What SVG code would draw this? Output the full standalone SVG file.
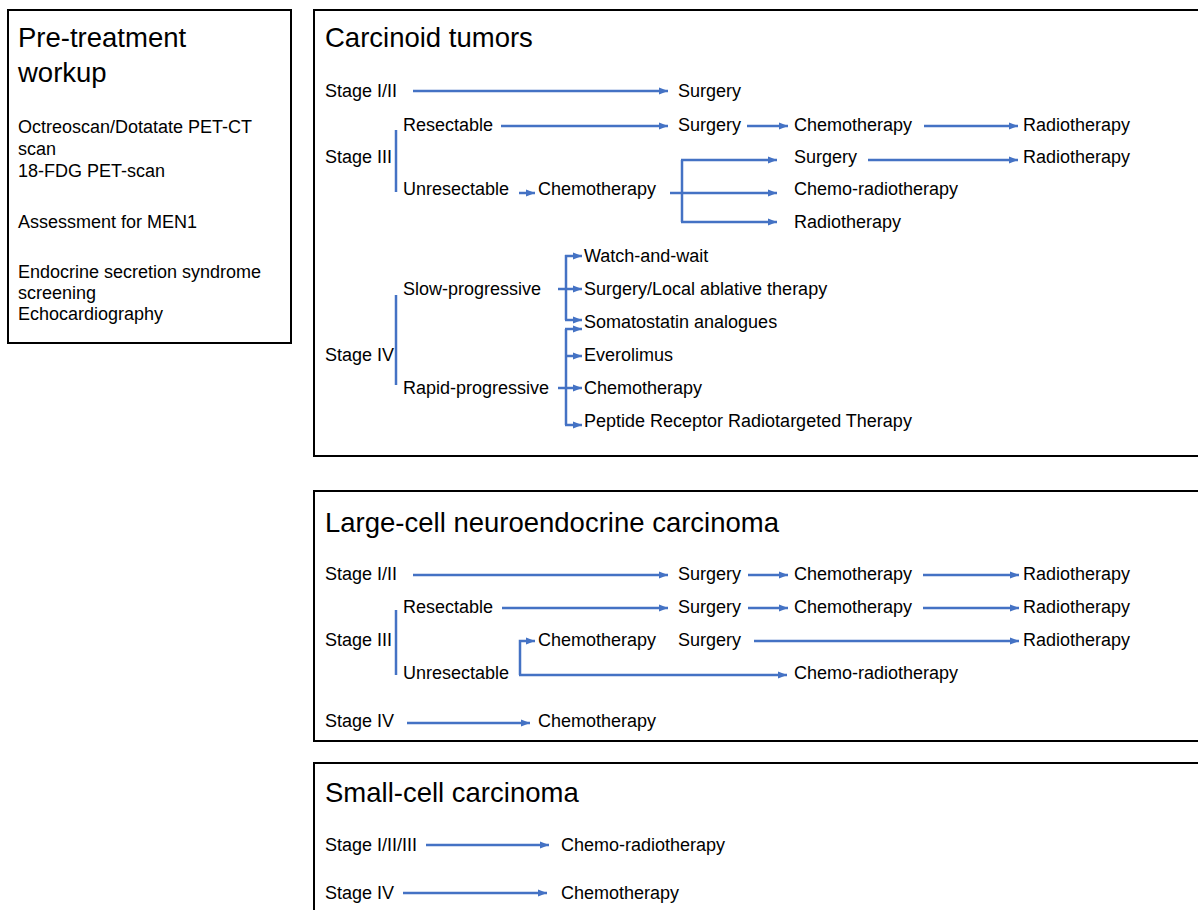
<svg xmlns="http://www.w3.org/2000/svg" width="1198" height="910" viewBox="0 0 1198 910">
<style>
.t{font-family:"Liberation Sans",Arial,sans-serif;font-size:18px;fill:#000}
.h{font-family:"Liberation Sans",Arial,sans-serif;font-size:27.5px;fill:#000}
.frame{fill:#fff;stroke:#000;stroke-width:2}
.c{fill:none;stroke:#4472C4;stroke-width:2.5}
.a{fill:none;stroke:#4472C4;stroke-width:2.5;marker-end:url(#ah)}
</style>
<defs>
<marker id="ah" markerUnits="userSpaceOnUse" markerWidth="10" markerHeight="8" refX="9" refY="4" orient="auto">
<path d="M0,0.5 L9,4 L0,7.5 z" fill="#4472C4"/>
</marker>
</defs>
<rect width="1198" height="910" fill="#fff"/>

<g id="workup">
<rect class="frame" x="8" y="10" width="283" height="333"/>
<text class="h" x="18" y="47">Pre-treatment</text>
<text class="h" x="18" y="82">workup</text>
<text class="t" x="18" y="133">Octreoscan/Dotatate PET-CT</text>
<text class="t" x="18" y="155">scan</text>
<text class="t" x="18" y="177">18-FDG PET-scan</text>
<text class="t" x="18" y="228">Assessment for MEN1</text>
<text class="t" x="18" y="278">Endocrine secretion syndrome</text>
<text class="t" x="18" y="299">screening</text>
<text class="t" x="18" y="320">Echocardiography</text>
</g>

<g id="carcinoid">
<rect class="frame" x="314" y="10" width="890" height="446"/>
<text class="h" x="325" y="47">Carcinoid tumors</text>
<text class="t" x="325" y="97">Stage I/II</text>
<text class="t" x="678" y="97">Surgery</text>
<text class="t" x="403" y="131">Resectable</text>
<text class="t" x="678" y="131">Surgery</text>
<text class="t" x="794" y="131">Chemotherapy</text>
<text class="t" x="1023" y="131">Radiotherapy</text>
<text class="t" x="325" y="163">Stage III</text>
<text class="t" x="794" y="163">Surgery</text>
<text class="t" x="1023" y="163">Radiotherapy</text>
<text class="t" x="403" y="195">Unresectable</text>
<text class="t" x="538" y="195">Chemotherapy</text>
<text class="t" x="794" y="195">Chemo-radiotherapy</text>
<text class="t" x="794" y="228">Radiotherapy</text>
<text class="t" x="584" y="262">Watch-and-wait</text>
<text class="t" x="403" y="295">Slow-progressive</text>
<text class="t" x="584" y="295">Surgery/Local ablative therapy</text>
<text class="t" x="584" y="328">Somatostatin analogues</text>
<text class="t" x="325" y="361">Stage IV</text>
<text class="t" x="584" y="361">Everolimus</text>
<text class="t" x="403" y="394">Rapid-progressive</text>
<text class="t" x="584" y="394">Chemotherapy</text>
<text class="t" x="584" y="427">Peptide Receptor Radiotargeted Therapy</text>
</g>

<g id="lcnec">
<rect class="frame" x="314" y="491" width="890" height="250"/>
<text class="h" x="325" y="532">Large-cell neuroendocrine carcinoma</text>
<text class="t" x="325" y="580">Stage I/II</text>
<text class="t" x="678" y="580">Surgery</text>
<text class="t" x="794" y="580">Chemotherapy</text>
<text class="t" x="1023" y="580">Radiotherapy</text>
<text class="t" x="403" y="613">Resectable</text>
<text class="t" x="678" y="613">Surgery</text>
<text class="t" x="794" y="613">Chemotherapy</text>
<text class="t" x="1023" y="613">Radiotherapy</text>
<text class="t" x="325" y="646">Stage III</text>
<text class="t" x="538" y="646">Chemotherapy</text>
<text class="t" x="678" y="646">Surgery</text>
<text class="t" x="1023" y="646">Radiotherapy</text>
<text class="t" x="403" y="679">Unresectable</text>
<text class="t" x="794" y="679">Chemo-radiotherapy</text>
<text class="t" x="325" y="727">Stage IV</text>
<text class="t" x="538" y="727">Chemotherapy</text>
</g>

<g id="sclc">
<rect class="frame" x="314" y="763" width="890" height="160"/>
<text class="h" x="325" y="802">Small-cell carcinoma</text>
<text class="t" x="325" y="851">Stage I/II/III</text>
<text class="t" x="561" y="851">Chemo-radiotherapy</text>
<text class="t" x="325" y="899">Stage IV</text>
<text class="t" x="561" y="899">Chemotherapy</text>
</g>

<g id="connectors">
<line class="a" x1="413" y1="91" x2="668" y2="91"/>
<line class="a" x1="501" y1="126" x2="668" y2="126"/>
<line class="a" x1="747" y1="126" x2="788" y2="126"/>
<line class="a" x1="924" y1="126" x2="1018" y2="126"/>
<line class="c" x1="396" y1="130" x2="396" y2="192"/>
<line class="a" x1="519" y1="193" x2="535" y2="193"/>
<line class="c" x1="670" y1="193" x2="682" y2="193"/>
<line class="c" x1="682" y1="160" x2="682" y2="222"/>
<line class="a" x1="681" y1="160" x2="777" y2="160"/>
<line class="a" x1="682" y1="193" x2="777" y2="193"/>
<line class="a" x1="681" y1="222" x2="777" y2="222"/>
<line class="a" x1="868" y1="160" x2="1018" y2="160"/>
<line class="c" x1="396" y1="295" x2="396" y2="385"/>
<line class="c" x1="566" y1="255" x2="566" y2="320"/>
<line class="a" x1="565" y1="256" x2="582" y2="256"/>
<line class="a" x1="558" y1="289" x2="582" y2="289"/>
<line class="a" x1="565" y1="320" x2="582" y2="320"/>
<line class="c" x1="566" y1="329" x2="566" y2="425"/>
<line class="a" x1="565" y1="329" x2="582" y2="329"/>
<line class="a" x1="566" y1="356" x2="582" y2="356"/>
<line class="a" x1="558" y1="388" x2="582" y2="388"/>
<line class="a" x1="565" y1="425" x2="582" y2="425"/>
<line class="a" x1="413" y1="575" x2="668" y2="575"/>
<line class="a" x1="748" y1="575" x2="788" y2="575"/>
<line class="a" x1="923" y1="575" x2="1019" y2="575"/>
<line class="a" x1="502" y1="608" x2="668" y2="608"/>
<line class="a" x1="748" y1="608" x2="788" y2="608"/>
<line class="a" x1="923" y1="608" x2="1019" y2="608"/>
<line class="c" x1="396" y1="610" x2="396" y2="675"/>
<path class="a" d="M520,675 L520,641 L535,641"/>
<line class="a" x1="754" y1="641" x2="1019" y2="641"/>
<line class="a" x1="519" y1="675" x2="787" y2="675"/>
<line class="a" x1="407" y1="723" x2="530" y2="723"/>
<line class="a" x1="426" y1="845" x2="549" y2="845"/>
<line class="a" x1="403" y1="893" x2="547" y2="893"/>
</g>
</svg>
